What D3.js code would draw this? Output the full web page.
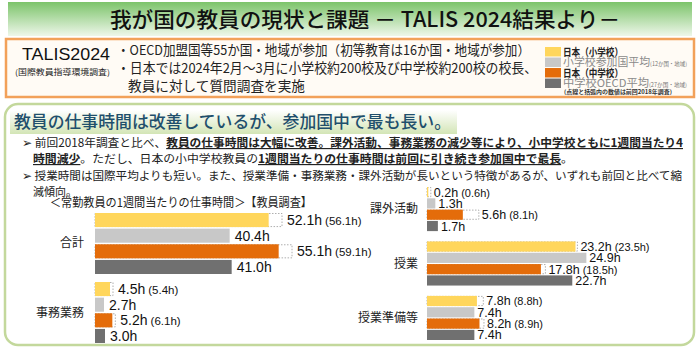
<!DOCTYPE html>
<html>
<head>
<meta charset="utf-8">
<script src="https://cdn.jsdelivr.net/npm/d3@7"></script>
<style>
  body { margin: 0; background: #fff; }
  svg { display: block; font-family: "Noto Sans CJK JP", sans-serif; }
  .num { font-family: "Liberation Sans", Arial, sans-serif; }
</style>
</head>
<body>
<div id="chart"></div>
<script>
// ---- data ----
const seriesNames = ['日本（小学校）', '小学校参加国平均', '日本（中学校）', '中学校OECD平均'];
const seriesNotes = ['', '(12か国・地域)', '', '(27か国・地域)'];
const seriesColors = ['#ffd65c', '#c8c8c8', '#e46c0a', '#707070'];

const leftCategories = ['合計', '事務業務'];
const leftValues = [
  [52.1, 40.4, 55.1, 41.0],
  [4.5, 2.7, 5.2, 3.0]
];
const leftPrevious = [
  [56.1, null, 59.1, null],
  [5.4, null, 6.1, null]
];

const rightCategories = ['課外活動', '授業', '授業準備等'];
const rightValues = [
  [0.2, 1.3, 5.6, 1.7],
  [23.2, 24.9, 17.8, 22.7],
  [7.8, 7.4, 8.2, 7.4]
];
const rightPrevious = [
  [0.6, null, 8.1, null],
  [23.5, null, 18.5, null],
  [8.8, null, 8.9, null]
];

const W = 700, H = 348;
const svg = d3.select('#chart').append('svg').attr('width', W).attr('height', H);
const defs = svg.append('defs');

const gTitle = defs.append('linearGradient').attr('id', 'gTitle').attr('x1', 0).attr('y1', 0).attr('x2', 0).attr('y2', 1);
gTitle.append('stop').attr('offset', 0).attr('stop-color', '#7cc46a');
gTitle.append('stop').attr('offset', 1).attr('stop-color', '#eef7ea');

const gHead = defs.append('linearGradient').attr('id', 'gHead').attr('x1', 0).attr('y1', 0).attr('x2', 0).attr('y2', 1);
gHead.append('stop').attr('offset', 0).attr('stop-color', '#ffffff');
gHead.append('stop').attr('offset', 1).attr('stop-color', '#d3e5b6');

// title bar
svg.append('rect').attr('x', 8).attr('y', 2).attr('width', 684).attr('height', 34).attr('fill', 'url(#gTitle)');
svg.append('text').attr('x', 110).attr('y', 27)
  .attr('font-size', 21).attr('font-weight', 500).attr('fill', '#111')
  .attr('textLength', 510).attr('lengthAdjust', 'spacingAndGlyphs')
  .text('我が国の教員の現状と課題 － TALIS 2024結果より－');

// survey outline box
svg.append('rect').attr('x', 6).attr('y', 39).attr('width', 688).attr('height', 58)
  .attr('fill', '#fffbf5').attr('stroke', '#f2a15a').attr('stroke-width', 2.5);
svg.append('text').attr('class', 'num').attr('x', 22).attr('y', 60)
  .attr('font-size', 17).attr('fill', '#111')
  .attr('textLength', 88).attr('lengthAdjust', 'spacingAndGlyphs').text('TALIS2024');
svg.append('text').attr('x', 15).attr('y', 75)
  .attr('font-size', 8).attr('fill', '#222')
  .attr('textLength', 95).attr('lengthAdjust', 'spacingAndGlyphs').text('(国際教員指導環境調査)');

const outline = [
  [117, 55, 413, '・OECD加盟国等55か国・地域が参加（初等教育は16か国・地域が参加）'],
  [117, 73, 420, '・日本では2024年2月～3月に小学校約200校及び中学校約200校の校長、'],
  [128, 91, 177, '教員に対して質問調査を実施']
];
svg.append('g').selectAll('text').data(outline).join('text')
  .attr('x', d => d[0]).attr('y', d => d[1])
  .attr('textLength', d => d[2]).attr('lengthAdjust', 'spacingAndGlyphs')
  .attr('font-size', 13.5).attr('fill', '#222').text(d => d[3]);

// legend
const legend = svg.append('g');
const legendY = d3.scaleBand().domain(seriesNames).range([47, 88]).paddingInner(0.1);
legend.selectAll('rect').data(seriesNames).join('rect')
  .attr('x', 545).attr('y', d => legendY(d)).attr('width', 16).attr('height', legendY.bandwidth())
  .attr('fill', (d, i) => seriesColors[i]);
const legendText = legend.selectAll('text').data(seriesNames).join('text')
  .attr('x', 563).attr('y', d => legendY(d) + legendY.bandwidth() / 2 + 4)
  .attr('font-size', (d, i) => i % 2 === 0 ? 10.5 : 11)
  .attr('font-weight', (d, i) => i % 2 === 0 ? 700 : 400)
  .attr('fill', (d, i) => i % 2 === 0 ? '#222' : '#8a8a8a')
  .attr('textLength', (d, i) => i % 2 === 0 ? 60 : 124)
  .attr('lengthAdjust', 'spacingAndGlyphs')
  .text(d => d);
legendText.append('tspan').attr('font-size', 5.5).attr('fill', '#777').text((d, i) => seriesNotes[i]);
legend.append('text').attr('x', 564).attr('y', 94).attr('font-size', 5.5).attr('font-weight', 700)
  .attr('fill', '#333').attr('textLength', 108).attr('lengthAdjust', 'spacingAndGlyphs')
  .text('(点線と括弧内の数値は前回2018年調査)');

// findings box
svg.append('rect').attr('x', 5).attr('y', 104).attr('width', 689).attr('height', 241)
  .attr('rx', 13).attr('fill', '#fff').attr('stroke', '#c3d89c').attr('stroke-width', 2.5);
svg.append('rect').attr('x', 10).attr('y', 110).attr('width', 447).attr('height', 24).attr('fill', 'url(#gHead)');
svg.append('text').attr('x', 14).attr('y', 128).attr('font-size', 17).attr('font-weight', 500)
  .attr('fill', '#1f4f6c').attr('textLength', 437).attr('lengthAdjust', 'spacingAndGlyphs')
  .text('教員の仕事時間は改善しているが、参加国中で最も長い。');

// bullet lines: [x, y, width, [[text, emphasised], ...]]
const bullets = [
  [22, 147, 661, [['➢ ', false], ['前回2018年調査と比べ、', false], ['教員の仕事時間は大幅に改善。課外活動、事務業務の減少等により、小中学校ともに1週間当たり4', true]]],
  [33, 163, 540, [['時間減少', true], ['。ただし、日本の小中学校教員の', false], ['1週間当たりの仕事時間は前回に引き続き参加国中で最長', true], ['。', false]]],
  [22, 180, 660, [['➢ ', false], ['授業時間は国際平均よりも短い。また、授業準備・事務業務・課外活動が長いという特徴があるが、いずれも前回と比べて縮', false]]],
  [33, 196, 44, [['減傾向。', false]]]
];
const bulletText = svg.append('g').selectAll('text').data(bullets).join('text')
  .attr('x', d => d[0]).attr('y', d => d[1])
  .attr('textLength', d => d[2]).attr('lengthAdjust', 'spacingAndGlyphs')
  .attr('font-size', 11.6).attr('fill', '#222');
bulletText.selectAll('tspan').data(d => d[3]).join('tspan')
  .attr('font-weight', d => d[1] ? 700 : 400)
  .attr('text-decoration', d => d[1] ? 'underline' : null)
  .text(d => d[0]);

svg.append('text').attr('x', 50).attr('y', 207).attr('font-size', 12).attr('fill', '#222')
  .attr('textLength', 262).attr('lengthAdjust', 'spacingAndGlyphs')
  .text('＜常勤教員の1週間当たりの仕事時間＞【教員調査】');

// ---- bar groups ----
function drawBars({ categories, values, previous, x, y, valueSize, noteSize, labelRight, pad }) {
  const inner = d3.scaleBand().domain(d3.range(seriesNames.length)).range([0, y.bandwidth()]).paddingInner(0.1);
  const g = svg.append('g');

  g.selectAll('text.cat').data(categories).join('text')
    .attr('class', 'cat')
    .attr('x', labelRight).attr('y', d => y(d) + y.bandwidth() / 2 + 4)
    .attr('text-anchor', 'end').attr('font-size', 12).attr('fill', '#222')
    .text(d => d);

  const rows = categories.flatMap((c, ci) => values[ci].map((v, si) => ({
    cat: c, si, v, prev: previous[ci][si]
  })));

  g.selectAll('rect.prev').data(rows.filter(d => d.prev != null)).join('rect')
    .attr('class', 'prev')
    .attr('x', x(0)).attr('y', d => y(d.cat) + inner(d.si) + 0.5)
    .attr('width', d => x(d.prev) - x(0)).attr('height', inner.bandwidth() - 1)
    .attr('fill', '#fff').attr('stroke', '#9a9a9a').attr('stroke-width', 0.8)
    .attr('stroke-dasharray', '1.5,1.5');

  g.selectAll('rect.bar').data(rows).join('rect')
    .attr('class', 'bar')
    .attr('x', x(0)).attr('y', d => y(d.cat) + inner(d.si))
    .attr('width', d => x(d.v) - x(0)).attr('height', inner.bandwidth())
    .attr('fill', d => seriesColors[d.si]);

  const labels = g.selectAll('text.val').data(rows).join('text')
    .attr('class', 'val num')
    .attr('x', d => x(Math.max(d.v, d.prev || 0)) + pad)
    .attr('y', d => y(d.cat) + inner(d.si) + inner.bandwidth() / 2 + valueSize * 0.36)
    .attr('font-size', valueSize).attr('fill', '#111')
    .text(d => d3.format('.1f')(d.v) + 'h');
  labels.filter(d => d.prev != null).append('tspan')
    .attr('font-size', noteSize).attr('dx', 3)
    .text(d => '(' + d3.format('.1f')(d.prev) + 'h)');
}

const leftX = d3.scaleLinear().domain([0, 60]).range([95, 295]);
const leftY = d3.scaleBand().domain(leftCategories).range([213, 343]).paddingInner(0.116);
drawBars({
  categories: leftCategories, values: leftValues, previous: leftPrevious,
  x: leftX, y: leftY, valueSize: 14, noteSize: 11.5, labelRight: 84, pad: 5
});

const rightX = d3.scaleLinear().domain([0, 30]).range([427, 619]);
const rightY = d3.scaleBand().domain(rightCategories).range([187, 340]).paddingInner(0.19);
drawBars({
  categories: rightCategories, values: rightValues, previous: rightPrevious,
  x: rightX, y: rightY, valueSize: 12.5, noteSize: 11, labelRight: 418, pad: 3
});
</script>
</body>
</html>
